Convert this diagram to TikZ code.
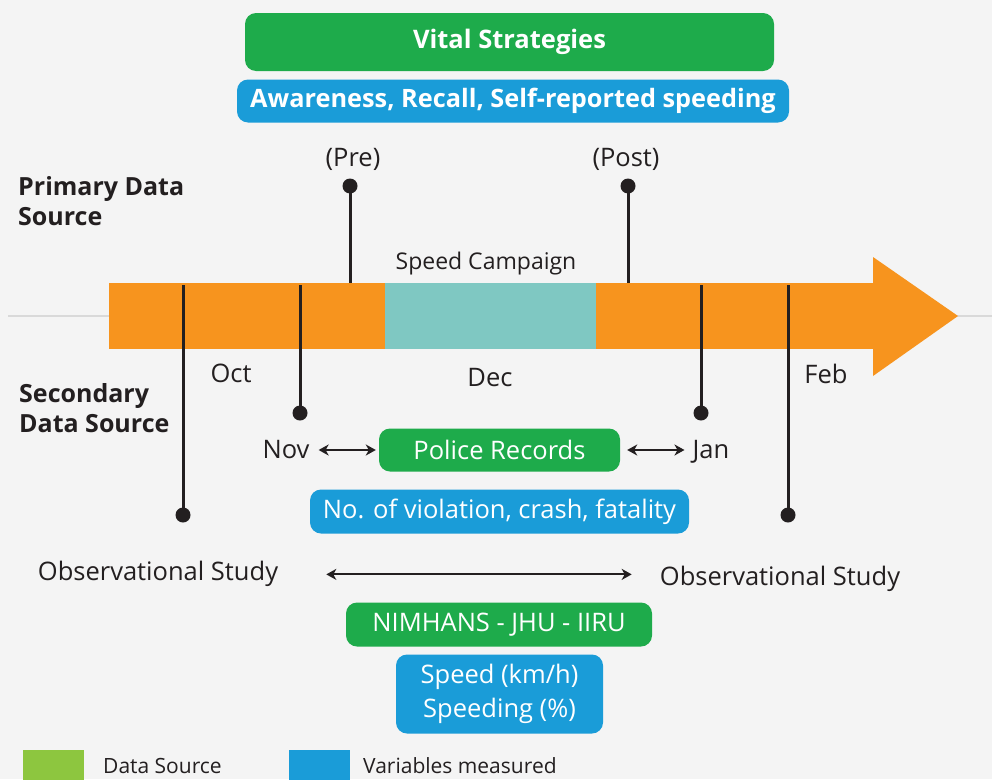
\documentclass[tikz,border=0pt]{standalone}
\usepackage{fontspec}
\setmainfont{Open Sans}
\usetikzlibrary{arrows.meta}

\definecolor{bg}{HTML}{F4F4F4}
\definecolor{ink}{HTML}{231F20}
\definecolor{srcgreen}{HTML}{1EAB4B}
\definecolor{varblue}{HTML}{1A9CD8}
\definecolor{barorange}{HTML}{F7941E}
\definecolor{barteal}{HTML}{7FC8C2}
\definecolor{keygreen}{HTML}{8DC63F}
\definecolor{axisgray}{HTML}{D9D9D9}

\begin{document}
\begin{tikzpicture}[x=1pt,y=-1pt,
  txt/.style={text=ink, inner sep=0pt, font=\fontsize{25.5}{30}\selectfont},
  heading/.style={text=ink, inner sep=0pt, align=left,
    font=\bfseries\fontsize{25}{30}\selectfont},
  pill/.style={rounded corners=11pt, text=white, inner sep=0pt, align=center,
    font=\fontsize{25.5}{34}\selectfont},
  source/.style={pill, fill=srcgreen},
  measured/.style={pill, fill=varblue},
  stem/.style={draw=ink, line width=3pt},
  pin/.style={circle, fill=ink, inner sep=0pt, minimum size=15pt},
  link/.style={draw=ink, line width=2pt,
    {Stealth[length=10pt,width=11pt,inset=3pt]}-{Stealth[length=10pt,width=11pt,inset=3pt]}},
  segment/.style={inner sep=0pt, outer sep=0pt, minimum height=66pt},
  key/.style={inner sep=0pt, minimum width=61pt, minimum height=34pt, anchor=north west},
]
% canvas
\useasboundingbox (0,0) rectangle (992,779);
\fill[bg] (0,0) rectangle (992,779);

% time axis behind the bar
\coordinate (axisL) at (8,316);
\coordinate (axisR) at (992,316);
\draw[axisgray, line width=2pt] (axisL) -- (axisR);

% timeline bar: before / campaign / after, then the arrow head
\node[segment, fill=barorange, minimum width=277pt] (before) at (247.5,316) {};
\node[segment, fill=barteal, minimum width=211pt] (campaign) at (490.5,316) {};
\node[segment, fill=barorange, minimum width=277pt] (after) at (734.5,316) {};
\fill[barorange] (after.north east) ++(0,-26) -- (958,316) -- ++(-85,60) -- cycle;

% headline boxes
\node[source, font=\bfseries\fontsize{25.5}{30}\selectfont,
  minimum width=529pt, minimum height=58pt] (vital) at (509.5,42) {Vital Strategies};
\node[measured, font=\bfseries\fontsize{25.3}{30}\selectfont,
  minimum width=552pt, minimum height=43pt] (survey) at (513,101) {Awareness, Recall, Self-reported speeding};

% side headings (anchored on the last line's baseline)
\node[heading, anchor=base west] (primary) at (18,225) {Primary Data\\Source};
\node[heading, anchor=base west] (secondary) at (19,432) {Secondary\\Data Source};

% survey rounds above the bar
\node[txt, anchor=base] (pre) at (353,166) {(Pre)};
\node[txt, anchor=base] (post) at (626,166) {(Post)};
\node[pin] (prepin) at (350,186) {};
\node[pin] (postpin) at (628,186) {};
\draw[stem] (prepin.center) -- (prepin |- before.north);
\draw[stem] (postpin.center) -- (postpin |- after.north);

\node[txt, font=\fontsize{23}{28}\selectfont, anchor=base] (camp) at (486,269) {Speed Campaign};

% month labels
\node[txt, anchor=base] (oct) at (231,382) {Oct};
\node[txt, anchor=base] (dec) at (490,386) {Dec};
\node[txt, anchor=base] (feb) at (826,383) {Feb};

% markers hanging below the bar
\node[pin] (obspinL) at (183,515) {};
\node[pin] (novpin) at (300,413) {};
\node[pin] (janpin) at (701,413) {};
\node[pin] (obspinR) at (788,515) {};
\draw[stem] ([yshift=-2pt]obspinL |- before.north) -- (obspinL.center);
\draw[stem] ([yshift=-2pt]novpin |- before.north) -- (novpin.center);
\draw[stem] ([yshift=-2pt]janpin |- after.north) -- (janpin.center);
\draw[stem] ([yshift=-2pt]obspinR |- after.north) -- (obspinR.center);

% police records
\node[txt, anchor=base] (nov) at (286,458) {Nov};
\node[txt, anchor=base] (jan) at (711,458) {Jan};
\node[source, minimum width=241pt, minimum height=43pt] (police) at (499.5,450) {Police Records};
\draw[link, shorten <=9pt, shorten >=3pt] (nov.east |- police.west) -- (police.west);
\draw[link, shorten <=7pt, shorten >=8pt] (police.east) -- (police.east -| jan.west);
\node[measured, minimum width=379pt, minimum height=44pt] (counts) at (499.5,511.5) {No. of violation, crash, fatality};

% observational study
\node[txt, anchor=base] (obsL) at (158,580) {Observational Study};
\node[txt, anchor=base] (obsR) at (780,585) {Observational Study};
\draw[link] ([xshift=48pt,yshift=-1pt]obsL.east) -- ([xshift=-28pt,yshift=-1pt]obsR.west |- obsL.east);
\node[source, minimum width=306pt, minimum height=44pt] (nimhans) at (499,624.5) {NIMHANS - JHU - IIRU};
\node[measured, minimum width=207pt, minimum height=79pt] (speed) at (499.5,694) {Speed (km/h)\\Speeding (\%)};

% legend
\node[key, fill=keygreen] (keysrc) at (23,750) {};
\node[txt, font=\fontsize{21}{25}\selectfont, anchor=base west] (keysrctxt) at (103,773) {Data Source};
\node[key, fill=varblue] (keyvar) at (289,750) {};
\node[txt, font=\fontsize{21}{25}\selectfont, anchor=base west] (keyvartxt) at (363,773) {Variables measured};
\end{tikzpicture}
\end{document}
